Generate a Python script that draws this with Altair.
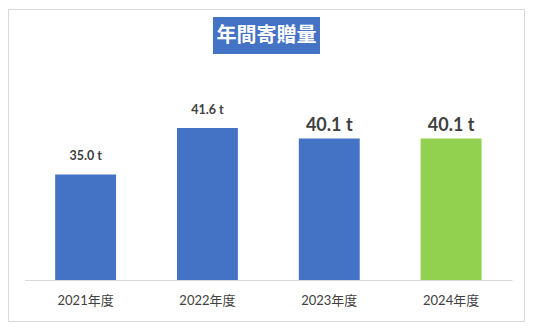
import altair as alt
import pandas as pd

years = ["2021年度", "2022年度", "2023年度", "2024年度"]
values = [35.0, 41.6, 40.1, 40.1]
labels = ["35.0 t", "41.6 t", "40.1 t", "40.1 t"]
colors = ["#4472C4", "#4472C4", "#4472C4", "#92D050"]
small_label_years = ["2021年度", "2022年度"]
big_label_years = ["2023年度", "2024年度"]
title_text = ["年間寄贈量"]

df = pd.DataFrame({"year": years, "value": values, "label": labels, "color": colors})

FONT = "Lato, 'Noto Sans CJK JP', sans-serif"

x_enc = alt.X(
    "year:N",
    sort=years,
    title=None,
    scale=alt.Scale(range=[16.7, 504], paddingInner=0.5, paddingOuter=0.25),
    axis=alt.Axis(
        offset=-41,
        domainColor="#d9d9d9",
        domainWidth=1,
        ticks=False,
        labelAngle=0,
        labelFont=FONT,
        labelFontSize=13,
        labelColor="#404040",
        labelPadding=14,
        grid=False,
    ),
)
y_enc = alt.Y(
    "value:Q",
    scale=alt.Scale(domain=[20, 45], range=[271, 95], zero=False, nice=False),
    axis=None,
)

base = alt.Chart(df)

bars = base.mark_bar(clip=False).encode(
    x=x_enc,
    y=y_enc,
    y2=alt.datum(20),
    color=alt.Color("color:N", scale=None, legend=None),
)

small_labels = base.transform_filter(
    alt.FieldOneOfPredicate(field="year", oneOf=small_label_years)
).mark_text(
    baseline="alphabetic", dy=-14, font=FONT, fontSize=12.5, fontWeight="bold", color="#404040"
).encode(x=alt.X("year:N", sort=years), y="value:Q", text="label:N")

big_labels = base.transform_filter(
    alt.FieldOneOfPredicate(field="year", oneOf=big_label_years)
).mark_text(
    baseline="alphabetic", dy=-7, font=FONT, fontSize=18, fontWeight="bold", color="#404040"
).encode(x=alt.X("year:N", sort=years), y="value:Q", text="label:N")

tdf = pd.DataFrame({"title": title_text})
title_box = alt.Chart(tdf).mark_rect(color="#4472C4").encode(
    x=alt.value(205), x2=alt.value(312), y=alt.value(8), y2=alt.value(45)
)
title_txt = alt.Chart(tdf).mark_text(
    font="'Noto Sans CJK JP', sans-serif", fontSize=20, fontWeight="bold",
    color="white", baseline="middle", align="center"
).encode(x=alt.value(258.5), y=alt.value(27), text="title:N")

chart = alt.layer(bars, small_labels, big_labels, title_box, title_txt).properties(
    width=516,
    height=312,
    padding={"left": 8, "top": 9, "right": 12, "bottom": 13},
    autosize=alt.AutoSizeParams(type="none"),
    background="white",
).configure_view(stroke="#d9d9d9", strokeWidth=1)

chart.save("out.html", embed_options={"renderer": "svg", "actions": False})
